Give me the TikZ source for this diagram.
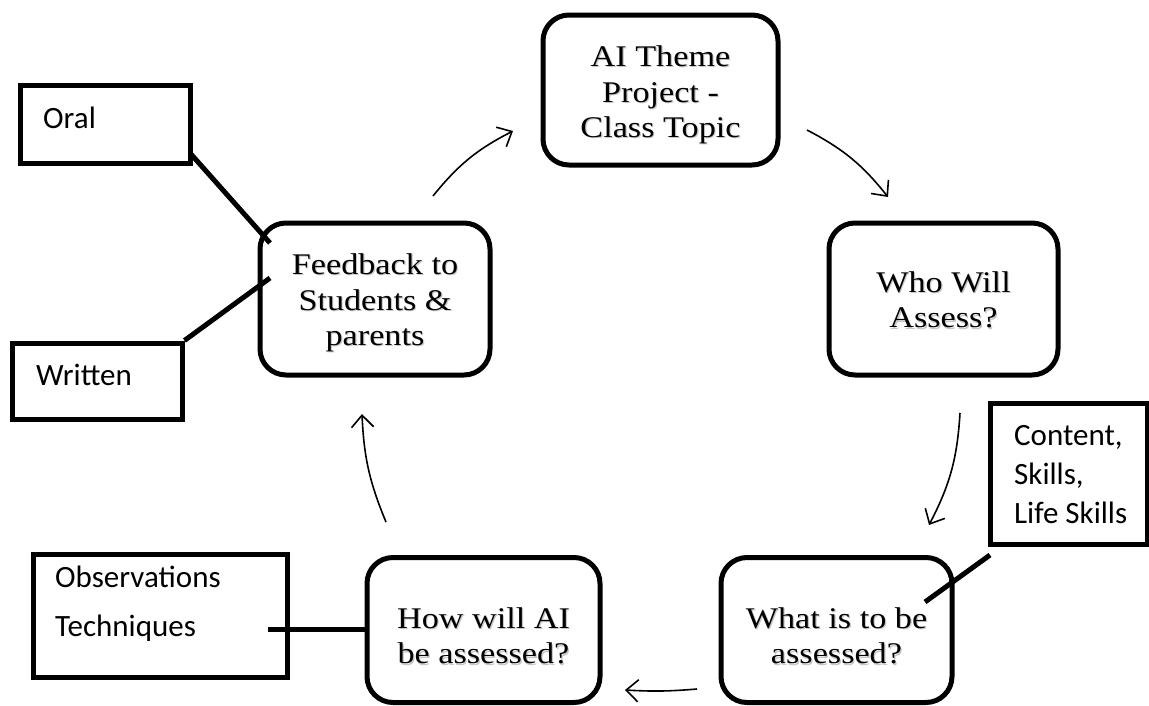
\documentclass[tikz,border=0pt]{standalone}
\usepackage{fontspec}
\setmainfont{Liberation Serif}[FakeStretch=1.14]
\newfontfamily\sidefont{Carlito}
\usetikzlibrary{arrows.meta,calc}

% stage: rounded frame, then its label over a soft grey shadow
% #1 name, #2/#3 frame centre, #4 frame size, #5/#6 label centre, #7 label
\newcommand\stagebox[7]{%
  \node[stage,#4] (#1) at (#2,#3) {};
  \node[stageshadow] at (#5+1.2,#6+1.2) {#7};
  \node[stagetext] (#1text) at (#5,#6) {#7};}

\begin{document}
\begin{tikzpicture}[x=1pt,y=-1pt,
  stage/.style={draw, line width=5pt, rounded corners=26pt, inner sep=0pt},
  stagetext/.style={align=center, inner sep=0pt,
    font=\fontsize{30}{35.5}\selectfont},
  stageshadow/.style={stagetext, text=black!22},
  note/.style={draw, line width=5pt, inner sep=0pt},
  notetext/.style={anchor=base west, inner sep=0pt,
    font=\sidefont\fontsize{31}{38}\selectfont},
  link/.style={line width=5pt},
  flow/.style={line width=1.6pt,
    -{Straight Barb[length=12pt,width=22pt,line width=1.6pt]}}
]
\useasboundingbox (0,0) rectangle (1149,705);

% main cycle
\stagebox{topic}{660.5}{90}{minimum width=235pt, minimum height=150pt}{660.5}{95}{AI Theme\\Project -\\Class Topic}
\stagebox{who}{943.5}{299}{minimum width=229pt, minimum height=152pt}{943.5}{300}{Who Will\\Assess?}
\stagebox{what}{836.5}{630}{minimum width=231pt, minimum height=145pt}{836.5}{636}{What is to be\\assessed?}
\stagebox{how}{483.5}{630}{minimum width=233pt, minimum height=145pt}{483.5}{636}{How will AI\\be assessed?}
\stagebox{feedback}{375}{299}{minimum width=230pt, minimum height=152pt}{375}{303}{Feedback to\\Students \&\\parents}

% side notes
\node[note, minimum width=170pt, minimum height=78pt] (oral) at (105,124) {};
\node[notetext] (oraltxt) at (43,128) {Oral};
\node[note, minimum width=170pt, minimum height=76pt] (written) at (97,381) {};
\node[notetext] (writtentxt) at (36,385) {Written};
\node[note, minimum width=157pt, minimum height=141pt] (content) at (1068.5,473.5) {};
\node[notetext] (contentA) at (1014,445) {Content,};
\node[notetext] (contentB) at (1014,484) {Skills,};
\node[notetext] (contentC) at (1014,523) {Life Skills};
\node[note, minimum width=254pt, minimum height=123pt] (obs) at (160,615.5) {};
\node[notetext] (obsA) at (55,587) {Observations};
\node[notetext] (obsB) at (55,636) {Techniques};

% thick links from notes to stages
\coordinate (oralA) at (190,153);
\coordinate (oralB) at (270,243);
\draw[link] (oralA) -- (oralB);
\coordinate (writtenB) at (270,278);
\draw[link] (written.north east) -- (writtenB);
\coordinate (contentA1) at (990,555);
\coordinate (contentB1) at (925,602);
\draw[link] (contentA1) -- (contentB1);
\coordinate (obsA1) at (268,629);
\draw[link] (obsA1) -- (obsA1 -| how.west);

% thin curved arrows of the cycle
\coordinate (f1) at (433,196); \coordinate (t1) at (513,131);
\coordinate (f2) at (807,130); \coordinate (t2) at (888,197);
\coordinate (f3) at (960,413); \coordinate (t3) at (929,525);
\coordinate (f4) at (697,689); \coordinate (t4) at (625,690);
\coordinate (f5) at (386,522); \coordinate (t5) at (362,414);
\draw[flow] (f1) to[bend left=12] (t1);
\draw[flow] (f2) to[bend left=12] (t2);
\draw[flow] (f3) to[bend left=12] (t3);
\draw[flow] (f4) to[bend left=4] (t4);
\draw[flow] (f5) to[bend left=10] (t5);
\end{tikzpicture}
\end{document}
